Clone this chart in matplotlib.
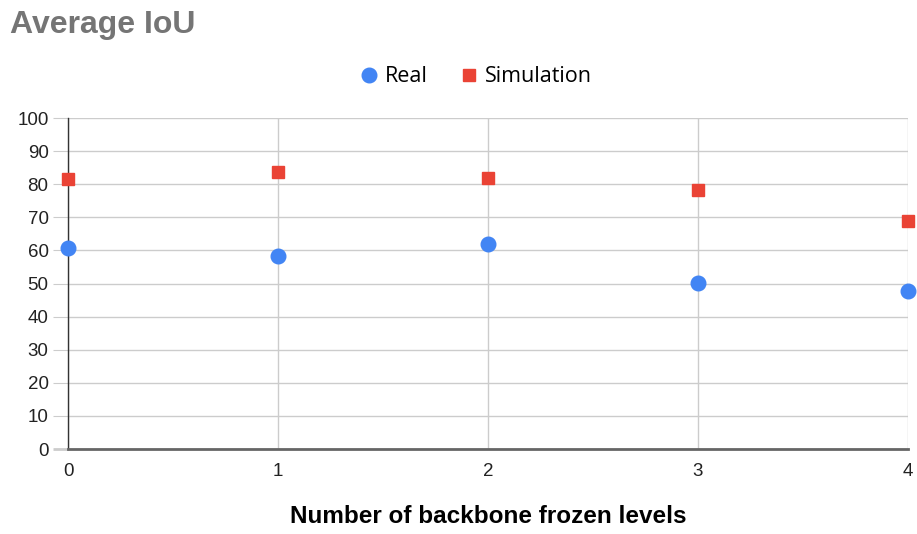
import matplotlib.pyplot as plt
import numpy as np

plt.rcParams['font.family'] = ['Liberation Sans', 'DejaVu Sans']

levels = [0, 1, 2, 3, 4]
real = [60.8, 58.2, 61.9, 50.3, 47.7]
simulation = [81.7, 83.7, 82.0, 78.3, 69.0]
y_ticks = list(range(0, 101, 10))

fig = plt.figure(figsize=(9.17, 5.34), dpi=100)
ax = fig.add_axes([0.0742, 0.159, 0.9160, 0.620])

ax.plot(levels, real, 'o', color='#4285F4', markersize=10.5, clip_on=False, zorder=5, label='Real')
ax.plot(levels, simulation, 's', color='#EA4335', markersize=9, clip_on=False, zorder=5, label='Simulation')

ax.set_xlim(0, 4)
ax.set_ylim(0, 100)
ax.set_xticks(levels)
ax.set_yticks(y_ticks)
ax.grid(True, color='#cccccc', linewidth=1)
ax.set_axisbelow(True)

for s in ['top', 'right']:
    ax.spines[s].set_visible(False)
ax.spines['left'].set_color('#333333')
ax.spines['left'].set_linewidth(1)
ax.spines['bottom'].set_color('#666666')
ax.spines['bottom'].set_linewidth(2)

ax.tick_params(axis='y', length=11, color='#cccccc', labelsize=13.5, labelcolor='#222222', pad=3)
ax.tick_params(axis='x', length=0, labelsize=13.5, labelcolor='#222222', pad=10)
# tick at zero continues the dark baseline
t0 = ax.yaxis.get_major_ticks()[0]
t0.tick1line.set_color('#666666')
t0.tick1line.set_markeredgewidth(2)

ax.set_xlabel('Number of backbone frozen levels', fontsize=17.5, fontweight='bold', labelpad=18)

fig.text(0.011, 0.953, 'Average IoU', fontsize=23, fontweight='bold', color='#757575', va='center')

fig.legend(loc='center', bbox_to_anchor=(0.517, 0.856), ncol=2, frameon=False,
           prop={'family': 'Open Sans', 'size': 15.5}, handletextpad=0.15, columnspacing=1.3,
           handlelength=1.2)

fig.savefig('out.png', dpi=100)
